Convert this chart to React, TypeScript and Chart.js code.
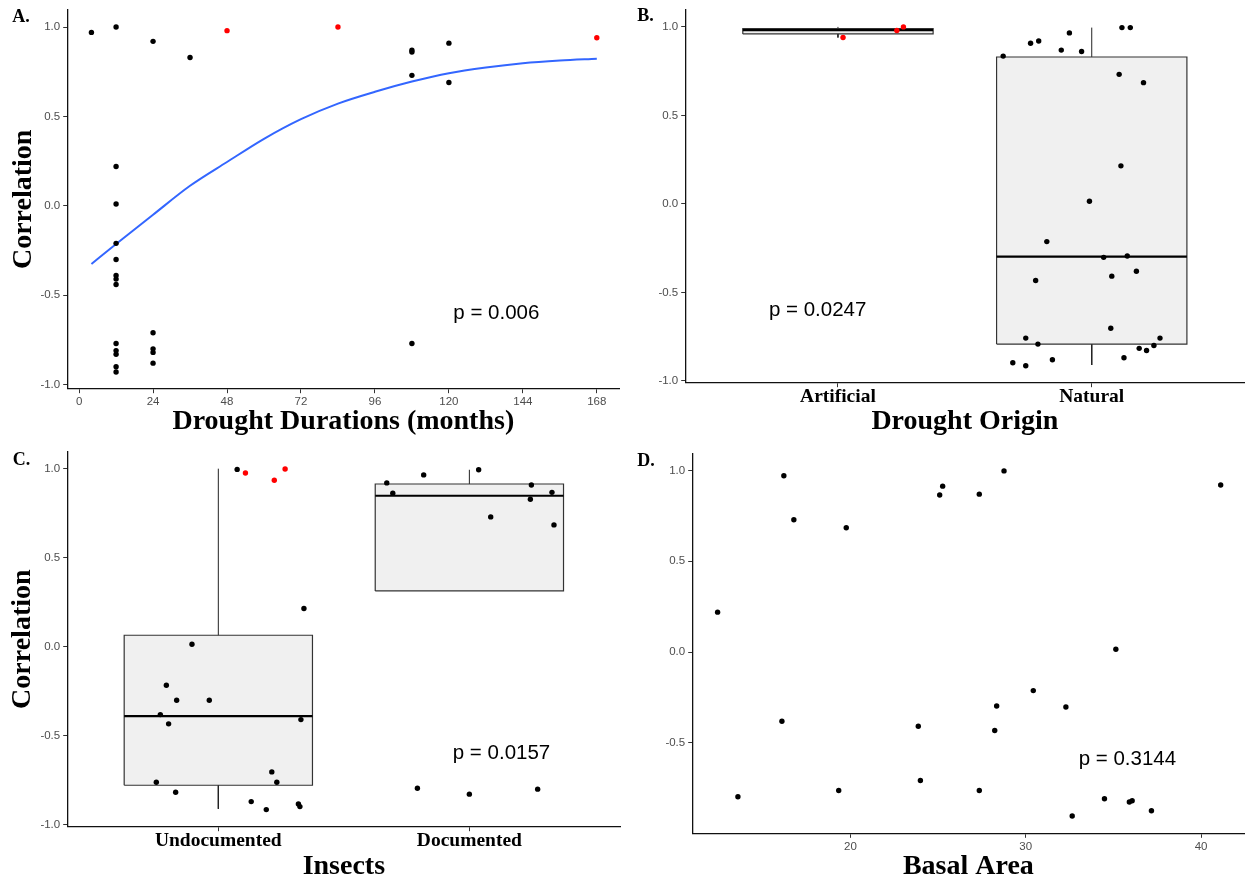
import React, { useEffect, useRef } from "react";
import { Chart, registerables } from "chart.js";
Chart.register(...registerables);

// ---------- Panel A: correlation vs drought duration ----------
const durationMonths = [4, 12, 24, 36, 12, 12, 12, 12, 12, 12, 12, 12, 12, 12, 12, 12, 24, 24, 24, 24, 108, 108, 108, 120, 120, 108];
const durationCorr = [0.97, 1.0, 0.92, 0.83, 0.22, 0.01, -0.21, -0.3, -0.39, -0.41, -0.44, -0.77, -0.81, -0.83, -0.9, -0.93, -0.71, -0.8, -0.82, -0.88, 0.87, 0.86, 0.73, 0.91, 0.69, -0.77];
const durationRedMonths = [48, 84, 168];
const durationRedCorr = [0.98, 1.0, 0.94];
const loessMonths = [4, 12, 24, 36, 48, 60, 72, 84, 96, 108, 120, 132, 144, 156, 168];
const loessCorr = [-0.325, -0.214, -0.05, 0.112, 0.245, 0.375, 0.485, 0.572, 0.638, 0.695, 0.742, 0.774, 0.798, 0.813, 0.823];
const monthTicks = [0, 24, 48, 72, 96, 120, 144, 168];
const corrTicks = [-1, -0.5, 0, 0.5, 1];
const corrTicksD = [-0.5, 0, 0.5, 1];

// ---------- Panel B: drought origin ----------
const originCategories = ["Artificial", "Natural"];
const artificialJitter = [1.02, 1.232, 1.258];
const artificialCorr = [0.94, 0.98, 1.0];
const naturalJitter = [1.651, 1.759, 1.791, 1.912, 1.88, 1.96, 2.119, 2.152, 2.108, 2.204, 2.115, 1.991, 1.823, 2.047, 2.14, 2.176, 2.079, 1.779, 2.075, 1.74, 1.788, 2.269, 2.245, 2.187, 2.216, 2.127, 1.845, 1.689, 1.74];
const naturalCorr = [0.835, 0.908, 0.92, 0.966, 0.869, 0.861, 0.996, 0.996, 0.732, 0.685, 0.215, 0.015, -0.213, -0.302, -0.294, -0.38, -0.408, -0.433, -0.702, -0.758, -0.792, -0.758, -0.8, -0.816, -0.828, -0.869, -0.88, -0.897, -0.914];
const originQ1 = [0.96, -0.792];
const originMedian = [0.982, -0.298];
const originQ3 = [0.99, 0.83];
const originLow = [0.94, -0.91];
const originHigh = [1.0, 0.996];

// ---------- Panel C: insects ----------
const insectCategories = ["Undocumented", "Documented"];
const undocJitter = [1.075, 1.341, 0.895, 0.793, 0.834, 0.964, 0.769, 0.802, 1.329, 1.213, 0.753, 1.233, 0.83, 1.131, 1.191, 1.319, 1.325];
const undocCorr = [0.996, 0.214, 0.013, -0.217, -0.301, -0.301, -0.382, -0.434, -0.41, -0.704, -0.762, -0.762, -0.818, -0.871, -0.916, -0.884, -0.899];
const undocRedJitter = [1.108, 1.223, 1.266];
const undocRedCorr = [0.976, 0.935, 0.998];
const docJitter = [1.671, 1.818, 2.037, 1.695, 2.247, 2.329, 2.243, 2.085, 2.337, 1.793, 2.0, 2.272];
const docCorr = [0.92, 0.965, 0.994, 0.862, 0.908, 0.867, 0.828, 0.729, 0.684, -0.796, -0.829, -0.801];
const insectQ1 = [-0.779, 0.313];
const insectMedian = [-0.391, 0.848];
const insectQ3 = [0.064, 0.914];
const insectLow = [-0.912, 0.313];
const insectHigh = [1.0, 0.994];

// ---------- Panel D: basal area ----------
const basalArea = [16.2, 16.77, 19.76, 12.42, 16.09, 13.58, 19.33, 23.87, 23.99, 25.09, 25.26, 27.35, 28.76, 41.12, 35.14, 30.43, 28.34, 32.29, 28.23, 27.35, 34.49, 35.91, 36.07, 37.17, 32.65];
const basalCorr = [0.971, 0.729, 0.685, 0.22, -0.381, -0.797, -0.762, -0.408, -0.707, 0.865, 0.914, 0.87, 0.998, 0.92, 0.016, -0.212, -0.297, -0.302, -0.432, -0.762, -0.808, -0.826, -0.819, -0.874, -0.903];
const basalTicks = [20, 30, 40];

// ---------- p-value annotations ----------
const pLabels = ["p = 0.006", "p = 0.0247", "p = 0.0157", "p = 0.3144"];

// ---------- styles ----------
const SERIF = "'Liberation Serif', 'Times New Roman', serif";
const SANS = "'Liberation Sans', Arial, sans-serif";
const BOX_HALF = 0.375;
const DOT_R = 2.7;
const tickFont = { family: SANS, size: 11.5 };
const catFont = { family: SERIF, size: 19.5, weight: "bold" as const, lineHeight: 1 };
const titleFont = { family: SERIF, size: 28, weight: "bold" as const, lineHeight: 1 };

const pts = (xs: number[], ys: number[]) => xs.map((x, i) => ({ x, y: ys[i] }));

function dots(xs: number[], ys: number[], color: string) {
  return {
    type: "scatter",
    data: pts(xs, ys),
    pointRadius: DOT_R,
    pointBorderWidth: 0,
    backgroundColor: color,
    borderColor: color,
    order: 0,
  };
}

function boxDatasets(q1: number[], med: number[], q3: number[], lo: number[], hi: number[]) {
  const ds: any[] = [];
  q1.forEach((_, i) => {
    const c = i + 1;
    const l = c - BOX_HALF;
    const r = c + BOX_HALF;
    ds.push({ type: "line", data: [{ x: l, y: q1[i] }, { x: r, y: q1[i] }], borderWidth: 0, pointRadius: 0, fill: false, order: 10 });
    ds.push({ type: "line", data: [{ x: l, y: q3[i] }, { x: r, y: q3[i] }], borderWidth: 0, pointRadius: 0, fill: "-1", backgroundColor: "#f0f0f0", order: 10 });
    ds.push({
      type: "line",
      data: [{ x: c, y: q3[i] }, { x: c, y: hi[i] }, { x: c, y: null }, { x: c, y: q1[i] }, { x: c, y: lo[i] }],
      borderColor: "#222", borderWidth: 1, pointRadius: 0, fill: false, spanGaps: false, order: 5,
    });
    ds.push({
      type: "line",
      data: [{ x: l, y: q1[i] }, { x: r, y: q1[i] }, { x: r, y: q3[i] }, { x: l, y: q3[i] }, { x: l, y: q1[i] }],
      borderColor: "#333", borderWidth: 1.2, pointRadius: 0, fill: false, order: 4,
    });
    ds.push({ type: "line", data: [{ x: l, y: med[i] }, { x: r, y: med[i] }], borderColor: "#000", borderWidth: 2.2, pointRadius: 0, fill: false, order: 3 });
  });
  return ds;
}

function yAxis(min: number, max: number, ticks: number[], width: number, title?: string, titlePad = 0) {
  return {
    type: "linear",
    min,
    max,
    afterBuildTicks: (s: any) => { s.ticks = ticks.map((v) => ({ value: v })); },
    afterFit: (s: any) => { s.width = width; },
    ticks: { font: tickFont, color: "#4d4d4d", padding: 3, autoSkip: false, callback: (v: any) => Number(v).toFixed(1) },
    grid: { drawOnChartArea: false, drawTicks: true, tickLength: 4.5, color: "#333", tickWidth: 1 },
    border: { display: true, color: "#111", width: 1.3 },
    title: title
      ? { display: true, text: title, font: titleFont, color: "#000", padding: { top: titlePad, bottom: 0 } }
      : { display: false },
  };
}

function xAxis(min: number, max: number, ticks: number[], height: number, title: string, titlePad: number, cats?: string[]) {
  return {
    type: "linear",
    min,
    max,
    afterBuildTicks: (s: any) => { s.ticks = ticks.map((v) => ({ value: v })); },
    afterFit: (s: any) => { s.height = height; },
    ticks: cats
      ? { font: catFont, color: "#000", padding: 0.5, maxRotation: 0, minRotation: 0, autoSkip: false, callback: (_v: any, i: number) => cats[i] }
      : { font: tickFont, color: "#4d4d4d", padding: 2, maxRotation: 0, minRotation: 0, autoSkip: false, callback: (v: any) => String(v) },
    grid: { drawOnChartArea: false, drawTicks: true, tickLength: 4.5, color: "#333", tickWidth: 1 },
    border: { display: true, color: "#111", width: 1.3 },
    title: { display: true, text: title, font: titleFont, color: "#000", padding: { top: 0, bottom: titlePad } },
  };
}

function pTextPlugin(text: string, x: number, y: number) {
  return {
    id: "pText",
    afterDatasetsDraw(chart: any) {
      const { ctx, scales } = chart;
      ctx.save();
      ctx.font = `20.5px ${SANS}`;
      ctx.fillStyle = "#000";
      ctx.textAlign = "center";
      ctx.textBaseline = "middle";
      ctx.fillText(text, scales.x.getPixelForValue(x), scales.y.getPixelForValue(y));
      ctx.restore();
    },
  };
}

function baseOptions(padding: any, scales: any) {
  return {
    responsive: false,
    animation: false,
    devicePixelRatio: 1,
    events: [],
    layout: { padding },
    plugins: { legend: { display: false }, tooltip: { enabled: false } },
    scales,
  };
}

function configA(): any {
  return {
    type: "scatter",
    data: {
      datasets: [
        dots(durationRedMonths, durationRedCorr, "#ff0000"),
        dots(durationMonths, durationCorr, "#000000"),
        {
          type: "line",
          data: pts(loessMonths, loessCorr),
          borderColor: "#3366ff",
          borderWidth: 2,
          pointRadius: 0,
          fill: false,
          cubicInterpolationMode: "monotone",
          order: 1,
        },
      ],
    },
    options: baseOptions(
      { left: 0, top: 8, right: 7, bottom: 0 },
      {
        x: xAxis(-3.7, 175.2, monthTicks, 51.3, "Drought Durations (months)", 3.75),
        y: yAxis(-1.023, 1.096, corrTicks, 67.7, "Correlation", 9.85),
      }
    ),
    plugins: [pTextPlugin(pLabels[0], 135.4, -0.6)],
  };
}

function configB(): any {
  return {
    type: "scatter",
    data: {
      datasets: [
        dots(artificialJitter, artificialCorr, "#ff0000"),
        dots(naturalJitter, naturalCorr, "#000000"),
        ...boxDatasets(originQ1, originMedian, originQ3, originLow, originHigh),
      ],
    },
    options: baseOptions(
      { left: 0, top: 8, right: 8, bottom: 0 },
      {
        x: xAxis(0.4, 2.6, [1, 2], 57.3, "Drought Origin", 3.75, originCategories),
        y: yAxis(-1.01, 1.096, corrTicks, 59.7),
      }
    ),
    plugins: [pTextPlugin(pLabels[1], 0.92, -0.6)],
  };
}

function configC(): any {
  return {
    type: "scatter",
    data: {
      datasets: [
        dots(undocRedJitter, undocRedCorr, "#ff0000"),
        dots(undocJitter, undocCorr, "#000000"),
        dots(docJitter, docCorr, "#000000"),
        ...boxDatasets(insectQ1, insectMedian, insectQ3, insectLow, insectHigh),
      ],
    },
    options: baseOptions(
      { left: 0, top: 11.6, right: 6, bottom: 0 },
      {
        x: xAxis(0.4, 2.6, [1, 2], 54.3, "Insects", 0.6, insectCategories),
        y: yAxis(-1.012, 1.096, corrTicks, 67.7, "Correlation", 8.85),
      }
    ),
    plugins: [pTextPlugin(pLabels[2], 2.128, -0.6)],
  };
}

function configD(): any {
  return {
    type: "scatter",
    data: { datasets: [dots(basalArea, basalCorr, "#000000")] },
    options: baseOptions(
      { left: 0, top: 13.3, right: 8, bottom: 0 },
      {
        x: xAxis(11.0, 42.45, basalTicks, 47.7, "Basal Area", 0.6),
        y: yAxis(-0.998, 1.095, corrTicksD, 66.7),
      }
    ),
    plugins: [pTextPlugin(pLabels[3], 35.8, -0.59)],
  };
}

function Panel({ left, top, width, height, build }: { left: number; top: number; width: number; height: number; build: () => any }) {
  const ref = useRef<HTMLCanvasElement | null>(null);
  useEffect(() => {
    const chart = new Chart(ref.current as HTMLCanvasElement, build());
    return () => chart.destroy();
  }, []);
  return (
    <canvas
      ref={ref}
      width={width}
      height={height}
      style={{ position: "absolute", left, top, width, height }}
    />
  );
}

const letterStyle = (left: number, top: number): React.CSSProperties => ({
  position: "absolute",
  left,
  top,
  fontFamily: SERIF,
  fontWeight: "bold",
  fontSize: 18,
  lineHeight: "18px",
  color: "#000",
});

export default function App() {
  return (
    <div style={{ position: "absolute", left: 0, top: 0, width: 1252, height: 881, background: "#fff" }}>
      <Panel left={0} top={0} width={626} height={440} build={configA} />
      <Panel left={626} top={0} width={626} height={440} build={configB} />
      <Panel left={0} top={440} width={626} height={441} build={configC} />
      <Panel left={626} top={440} width={626} height={441} build={configD} />
      <div style={letterStyle(12.3, 6.6)}>A.</div>
      <div style={letterStyle(637.3, 6.2)}>B.</div>
      <div style={letterStyle(12.7, 449.9)}>C.</div>
      <div style={letterStyle(637.3, 450.6)}>D.</div>
    </div>
  );
}
